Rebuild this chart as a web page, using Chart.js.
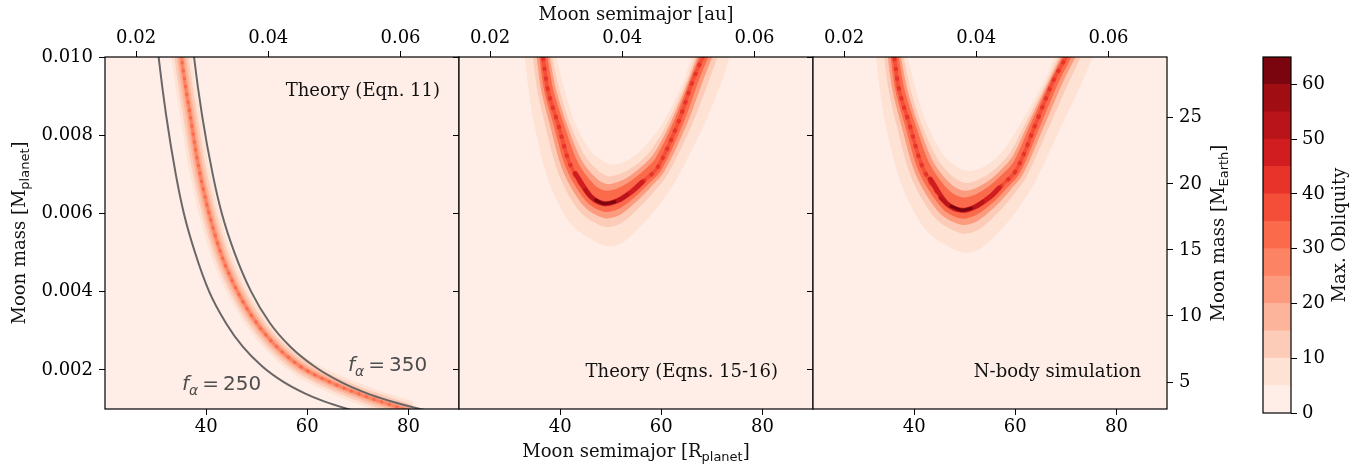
<!DOCTYPE html>
<html lang="en">
<head>
<meta charset="UTF-8">
<title>Moon obliquity</title>
<script src="https://cdn.jsdelivr.net/npm/chart.js@4.4.0/dist/chart.umd.min.js"></script>
<style>
  html, body { margin: 0; padding: 0; background: #fff; }
  #fig { position: relative; width: 1369px; height: 466px; }
  #fig canvas { position: absolute; left: 0; top: 0; }
</style>
</head>
<body>
<div id="fig">
  <canvas id="p1" width="1369" height="466"></canvas>
  <canvas id="p2" width="1369" height="466"></canvas>
  <canvas id="p3" width="1369" height="466"></canvas>
  <canvas id="cb" width="1369" height="466"></canvas>
</div>
<script>
// axes
const xMin = 20, xMax = 90;            // Moon semimajor [R_planet]
const yMin = 0.001, yMax = 0.010;      // Moon mass [M_planet]
const auPerRp = 0.000765;              // top axis conversion
const earthPerMp = 2960;               // right axis conversion
const xTicks = [40, 60, 80];
const auTicks = [0.02, 0.04, 0.06];
const yTicks = [0.002, 0.004, 0.006, 0.008, 0.010];
const earthTicks = [5, 10, 15, 20, 25];

// colour levels (Max. Obliquity, deg)
const cbLevels = [0, 5, 10, 15, 20, 25, 30, 35, 40, 45, 50, 55, 60, 65];
const cbTicks = [0, 10, 20, 30, 40, 50, 60];
const levelColors = ['#ffeee7', '#fee2d4', '#fdccb8', '#fcb59a', '#fc9b7d', '#fc8363', '#fb6a4a',
                     '#f44d38', '#e73329', '#d11d1f', '#b91419', '#a00e14', '#7a050f'];

// panel 1: Theory (Eqn. 11)  [a, m]
const p1Core = [[34.7,0.0105],[35.1,0.0100],[35.8,0.00936],[36.8,0.00855],[38.4,0.00727],[40.1,0.00625],[42.7,0.00506],[45.4,0.00421],[48.9,0.00340],[53.0,0.00272],[58.5,0.00210],[65.0,0.00166],[71.4,0.00133],[75.9,0.00113],[80.5,0.00094]];
const p1Alpha250 = [[30.2,0.0105],[30.6,0.0100],[32.1,0.0085],[34.0,0.0070],[35.6,0.0060],[37.8,0.0050],[40.6,0.0040],[43.9,0.0032],[47.2,0.0026],[51.0,0.0021],[55.2,0.0017],[59.5,0.0014],[63.2,0.0012],[68.0,0.0010],[70.9,0.0009]];
const p1Alpha350 = [[37.2,0.0105],[37.6,0.0100],[39.2,0.0085],[41.3,0.0070],[43.1,0.0060],[45.6,0.0050],[48.9,0.0040],[52.6,0.0032],[56.6,0.0026],[61.3,0.0021],[66.5,0.0017],[71.8,0.0014],[76.5,0.0012],[82.3,0.0010],[85.8,0.0009]];

// panel 2: Theory (Eqns. 15-16), contour outlines (outer / inner side of the U)
const p2Ridge = [[36.01,0.01051],[36.60,0.01000],[37.59,0.00915],[39.56,0.00830],[42.20,0.00719],[46.15,0.00642],[48.79,0.00625],[51.42,0.00633],[54.06,0.00655],[56.69,0.00685],[59.33,0.00719],[63.28,0.00830],[66.25,0.00940],[68.22,0.01000],[69.93,0.01051]];
const p2Out5 = [[32.51,0.01051],[32.98,0.01000],[33.77,0.00915],[34.82,0.00830],[37.72,0.00683],[42.27,0.00571],[48.79,0.00518],[52.41,0.00526],[57.68,0.00592],[60.38,0.00637],[62.95,0.00686],[68.55,0.00830],[72.04,0.00940],[73.49,0.01000],[74.74,0.01051]];
const p2In5 = [[38.25,0.01051],[39.23,0.01000],[40.88,0.00915],[42.99,0.00830],[46.15,0.00757],[48.13,0.00737],[49.78,0.00726],[51.75,0.00728],[53.73,0.00739],[55.70,0.00757],[57.68,0.00785],[60.25,0.00830],[64.47,0.00940],[65.92,0.01000],[67.17,0.01051]];
const p2Out10 = [[34.08,0.01051],[34.60,0.01000],[35.49,0.00915],[36.96,0.00830],[39.74,0.00699],[44.01,0.00603],[48.79,0.00566],[51.97,0.00574],[56.05,0.00620],[58.72,0.00658],[61.32,0.00701],[66.18,0.00830],[69.43,0.00940],[71.12,0.01000],[72.58,0.01051]];
const p2In10 = [[37.57,0.01051],[38.44,0.01000],[39.89,0.00915],[41.96,0.00830],[44.97,0.00746],[47.54,0.00709],[49.48,0.00695],[51.65,0.00700],[53.83,0.00714],[56.00,0.00735],[58.17,0.00765],[61.16,0.00830],[65.00,0.00940],[66.61,0.01000],[68.00,0.01051]];
const p2Out20 = [[34.78,0.01051],[35.33,0.01000],[36.25,0.00915],[37.90,0.00830],[40.63,0.00706],[44.79,0.00617],[48.79,0.00588],[51.77,0.00596],[55.33,0.00633],[57.98,0.00668],[60.60,0.00707],[65.13,0.00830],[68.27,0.00940],[70.07,0.01000],[71.62,0.01051]];
const p2In20 = [[37.13,0.01051],[37.92,0.01000],[39.23,0.00915],[41.28,0.00830],[44.18,0.00738],[47.14,0.00690],[49.28,0.00675],[51.59,0.00681],[53.89,0.00697],[56.20,0.00721],[58.50,0.00752],[61.76,0.00830],[65.36,0.00940],[67.07,0.01000],[68.55,0.01051]];
const p2Out30 = [[35.31,0.01051],[35.87,0.01000],[36.82,0.00915],[38.62,0.00830],[41.30,0.00712],[45.37,0.00628],[48.79,0.00604],[51.62,0.00612],[54.78,0.00642],[57.43,0.00675],[60.05,0.00712],[64.33,0.00830],[67.41,0.00940],[69.28,0.01000],[70.90,0.01051]];
const p2In30 = [[36.74,0.01051],[37.47,0.01000],[38.67,0.00915],[40.70,0.00830],[43.50,0.00731],[46.80,0.00673],[49.12,0.00658],[51.53,0.00665],[53.95,0.00683],[56.36,0.00708],[58.79,0.00740],[62.28,0.00830],[65.66,0.00940],[67.46,0.01000],[69.02,0.01051]];
const p2Core40 = [[43.0,0.00702],[46.15,0.00642],[48.79,0.00625],[51.42,0.00633],[54.06,0.00655],[56.2,0.00680]];
const p2Core50 = [[45.0,0.00660],[46.15,0.00642],[48.79,0.00625],[51.42,0.00633],[53.3,0.00648]];
const p2Core60 = [[47.0,0.00634],[48.79,0.00625],[50.8,0.00630]];

// panel 3: N-body simulation
const p3Ridge = [[35.48,0.01051],[36.07,0.01000],[37.06,0.00915],[39.03,0.00830],[42.00,0.00709],[46.48,0.00625],[49.45,0.00608],[52.21,0.00618],[54.98,0.00642],[57.61,0.00675],[60.25,0.00712],[64.07,0.00830],[67.57,0.00940],[70.06,0.01000],[72.04,0.01051]];
const p3Out5 = [[31.98,0.01051],[32.45,0.01000],[33.24,0.00915],[34.29,0.00830],[37.52,0.00673],[42.60,0.00554],[49.45,0.00501],[53.20,0.00511],[58.60,0.00579],[61.30,0.00627],[63.87,0.00679],[69.34,0.00830],[73.36,0.00940],[75.33,0.01000],[76.85,0.01051]];
const p3In5 = [[37.72,0.01051],[38.70,0.01000],[40.35,0.00915],[42.46,0.00830],[45.95,0.00747],[48.46,0.00720],[50.44,0.00709],[52.54,0.00713],[54.65,0.00726],[56.62,0.00747],[58.60,0.00778],[61.04,0.00830],[65.79,0.00940],[67.76,0.01000],[69.28,0.01051]];
const p3Out10 = [[33.55,0.01051],[34.07,0.01000],[34.96,0.00915],[36.43,0.00830],[39.54,0.00689],[44.34,0.00586],[49.45,0.00549],[52.76,0.00559],[56.97,0.00607],[59.64,0.00648],[62.24,0.00694],[66.97,0.00830],[70.75,0.00940],[72.96,0.01000],[74.69,0.01051]];
const p3In10 = [[37.04,0.01051],[37.91,0.01000],[39.36,0.00915],[41.43,0.00830],[44.77,0.00736],[47.87,0.00692],[50.14,0.00678],[52.44,0.00685],[54.75,0.00701],[56.92,0.00725],[59.09,0.00758],[61.95,0.00830],[66.32,0.00940],[68.45,0.01000],[70.11,0.01051]];
const p3Out20 = [[34.25,0.01051],[34.80,0.01000],[35.72,0.00915],[37.37,0.00830],[40.43,0.00696],[45.12,0.00600],[49.45,0.00571],[52.56,0.00581],[56.25,0.00620],[58.90,0.00658],[61.52,0.00700],[65.92,0.00830],[69.59,0.00940],[71.91,0.01000],[73.73,0.01051]];
const p3In20 = [[36.60,0.01051],[37.39,0.01000],[38.70,0.00915],[40.75,0.00830],[43.98,0.00728],[47.47,0.00673],[49.94,0.00658],[52.38,0.00666],[54.81,0.00684],[57.12,0.00711],[59.42,0.00745],[62.55,0.00830],[66.68,0.00940],[68.91,0.01000],[70.66,0.01051]];
const p3Out30 = [[34.78,0.01051],[35.34,0.01000],[36.29,0.00915],[38.09,0.00830],[41.10,0.00702],[45.70,0.00611],[49.45,0.00587],[52.41,0.00597],[55.70,0.00629],[58.35,0.00665],[60.97,0.00705],[65.12,0.00830],[68.73,0.00940],[71.12,0.01000],[73.01,0.01051]];
const p3In30 = [[36.21,0.01051],[36.94,0.01000],[38.14,0.00915],[40.17,0.00830],[43.30,0.00721],[47.13,0.00656],[49.78,0.00641],[52.32,0.00650],[54.87,0.00670],[57.28,0.00698],[59.71,0.00733],[63.07,0.00830],[66.98,0.00940],[69.30,0.01000],[71.13,0.01051]];
const p3Core40 = [[43.2,0.00688],[46.48,0.00625],[49.45,0.00608],[52.21,0.00618],[54.98,0.00642],[56.8,0.00665]];
const p3Core50 = [[45.2,0.00640],[46.48,0.00625],[49.45,0.00608],[52.21,0.00618],[53.6,0.00630]];
const p3Core60 = [[47.3,0.00618],[49.45,0.00608],[51.3,0.00613]];

const serif = "'DejaVu Serif', serif";
const sans = "'DejaVu Sans', sans-serif";
const tickFont = { family: serif, size: 18 };

function pts(arr) {
    return arr.map(p => ({ x: p[0], y: p[1] }));
}

function stroke(data, color, width, cap, dash) {
    return { data: pts(data), showLine: true, fill: false, borderColor: color, borderWidth: width,
             pointRadius: 0, tension: 0.35, borderCapStyle: cap || 'butt', borderJoinStyle: 'round',
             borderDash: dash || [] };
}

function smooth(ds) {
    ds.cubicInterpolationMode = 'monotone';
    return ds;
}

function band(outer, inner, color) {
    return { data: pts(outer.concat(inner.slice().reverse())), showLine: true, fill: 'shape',
             backgroundColor: color, borderColor: 'rgba(0,0,0,0)', borderWidth: 0,
             pointRadius: 0, tension: 0.3 };
}

// later entries are drawn on top
function stackOrder(list) {
    list.forEach((d, i) => { d.order = list.length - i; });
    return list;
}

// text with subscripts, parts = [{t, sub, italic, family}]
function richText(ctx, parts, x, y, size, opts) {
    opts = opts || {};
    ctx.save();
    ctx.translate(x, y);
    if (opts.rotate) ctx.rotate(-Math.PI / 2);
    ctx.fillStyle = opts.color || '#000';
    ctx.textBaseline = 'alphabetic';
    const fontOf = p => (p.italic ? 'italic ' : '') + Math.round(p.sub ? size * 0.7 : size) + 'px ' + (p.family || opts.family || serif);
    const widths = parts.map(p => { ctx.font = fontOf(p); return ctx.measureText(p.t).width; });
    const total = widths.reduce((s, w) => s + w, 0);
    let cx = opts.align === 'right' ? -total : (opts.align === 'left' ? 0 : -total / 2);
    parts.forEach((p, i) => {
        ctx.font = fontOf(p);
        ctx.fillText(p.t, cx, p.sub ? size * 0.24 : 0);
        cx += widths[i];
    });
    ctx.restore();
}

function tickGrid() {
    return { display: true, drawOnChartArea: false, drawTicks: true, tickLength: 6, color: '#000', tickWidth: 1 };
}

const panelBg = {
    id: 'panelBg',
    beforeDatasetsDraw(chart) {
        const a = chart.chartArea, ctx = chart.ctx;
        ctx.save();
        ctx.fillStyle = levelColors[0];
        ctx.fillRect(a.left, a.top, a.right - a.left, a.bottom - a.top);
        ctx.restore();
    }
};

const frame = {
    id: 'frame',
    afterDraw(chart) {
        const a = chart.chartArea, ctx = chart.ctx;
        ctx.save();
        ctx.strokeStyle = '#000';
        ctx.lineWidth = 1.2;
        ctx.strokeRect(a.left, a.top, a.right - a.left, a.bottom - a.top);
        ctx.restore();
    }
};

function makePanel(id, datasets, cfg) {
    const scales = {
        x: {
            type: 'linear', position: 'bottom', min: xMin, max: xMax,
            afterBuildTicks: s => { s.ticks = xTicks.map(v => ({ value: v })); },
            afterFit: s => { s.height = 57; },
            grid: tickGrid(), border: { display: false },
            ticks: { color: '#000', font: tickFont, padding: 2, maxRotation: 0, callback: v => String(v) }
        },
        xTop: {
            type: 'linear', position: 'top', min: xMin * auPerRp, max: xMax * auPerRp,
            afterBuildTicks: s => { s.ticks = auTicks.map(v => ({ value: v })); },
            afterFit: s => { s.height = 57; },
            grid: tickGrid(), border: { display: false },
            ticks: { color: '#000', font: tickFont, padding: 2, maxRotation: 0, callback: v => v.toFixed(2) }
        },
        y: {
            type: 'linear', position: 'left', min: yMin, max: yMax,
            afterBuildTicks: s => { s.ticks = yTicks.map(v => ({ value: v })); },
            afterFit: s => { s.width = cfg.leftWidth; },
            grid: tickGrid(), border: { display: false },
            ticks: { display: cfg.yLabels, color: '#000', font: tickFont, padding: 6, callback: v => v.toFixed(3) }
        }
    };
    if (cfg.earthAxis) {
        scales.yR = {
            type: 'linear', position: 'right', min: yMin * earthPerMp, max: yMax * earthPerMp,
            afterBuildTicks: s => { s.ticks = earthTicks.map(v => ({ value: v })); },
            afterFit: s => { s.width = 202; },
            grid: tickGrid(), border: { display: false },
            ticks: { color: '#000', font: tickFont, padding: 6, callback: v => String(v) }
        };
    }
    return new Chart(document.getElementById(id), {
        type: 'scatter',
        data: { datasets: stackOrder(datasets) },
        options: {
            responsive: false, animation: false, devicePixelRatio: 1, events: [],
            layout: { padding: cfg.padding },
            scales: scales,
            plugins: { legend: { display: false }, tooltip: { enabled: false } }
        },
        plugins: [panelBg, frame, { id: 'labels', afterDraw: cfg.draw }]
    });
}

// panel 1
makePanel('p1', [
    smooth(stroke(p1Core, levelColors[1], 20)),
    smooth(stroke(p1Core, levelColors[2], 14)),
    smooth(stroke(p1Core, levelColors[3], 9)),
    smooth(stroke(p1Core, levelColors[4], 5)),
    smooth(stroke(p1Core, levelColors[5], 2.5)),
    smooth(stroke(p1Core, levelColors[6], 3, 'butt', [3, 5])),
    smooth(stroke(p1Alpha250, '#6b6666', 2)),
    smooth(stroke(p1Alpha350, '#6b6666', 2))
], {
    leftWidth: 105, yLabels: true,
    padding: { left: 0, right: 1369 - 459, top: 0, bottom: 0 },
    draw(chart) {
        const a = chart.chartArea, ctx = chart.ctx;
        richText(ctx, [{ t: 'Theory (Eqn. 11)' }], a.right - 19, a.top + 39, 18, { align: 'right', color: '#111' });
        const fa = [{ t: 'f', italic: true }, { t: '\u03b1', sub: true, italic: true }, { t: '\u2009=\u2009' }];
        richText(ctx, fa.concat([{ t: '250' }]), a.left + 77, a.bottom - 19, 20, { align: 'left', family: sans, color: '#4d4d4d' });
        richText(ctx, fa.concat([{ t: '350' }]), a.left + 243, a.bottom - 38, 20, { align: 'left', family: sans, color: '#4d4d4d' });
        richText(ctx, [{ t: 'Moon mass [M' }, { t: 'planet', sub: true, family: sans }, { t: ']' }], 25, (a.top + a.bottom) / 2, 18, { rotate: true, color: '#111' });
    }
});

function uPanel(ridge, o5, i5, o10, i10, o20, i20, o30, i30, c40, c50, c60) {
    return [
        band(o5, i5, levelColors[1]),
        band(o10, i10, levelColors[2]),
        band(o20, i20, levelColors[4]),
        band(o30, i30, levelColors[6]),
        stroke(ridge, levelColors[7], 3.5),
        stroke(ridge, levelColors[8], 4, 'butt', [4, 6]),
        stroke(c40, levelColors[9], 5, 'round'),
        stroke(c50, levelColors[10], 4, 'round'),
        stroke(c60, levelColors[12], 3, 'round')
    ];
}

// panel 2
makePanel('p2', uPanel(p2Ridge, p2Out5, p2In5, p2Out10, p2In10, p2Out20, p2In20, p2Out30, p2In30, p2Core40, p2Core50, p2Core60), {
    leftWidth: 40, yLabels: false,
    padding: { left: 459 - 40, right: 1369 - 813, top: 0, bottom: 0 },
    draw(chart) {
        const a = chart.chartArea, ctx = chart.ctx;
        const cx = (a.left + a.right) / 2;
        richText(ctx, [{ t: 'Theory (Eqns. 15-16)' }], a.right - 35, a.bottom - 32, 18, { align: 'right', color: '#111' });
        richText(ctx, [{ t: 'Moon semimajor [au]' }], cx, 20, 18, { color: '#111' });
        richText(ctx, [{ t: 'Moon semimajor [R' }, { t: 'planet', sub: true, family: sans }, { t: ']' }], cx, 457, 18, { color: '#111' });
    }
});

// panel 3
makePanel('p3', uPanel(p3Ridge, p3Out5, p3In5, p3Out10, p3In10, p3Out20, p3In20, p3Out30, p3In30, p3Core40, p3Core50, p3Core60), {
    leftWidth: 40, yLabels: false, earthAxis: true,
    padding: { left: 813 - 40, right: 0, top: 0, bottom: 0 },
    draw(chart) {
        const a = chart.chartArea, ctx = chart.ctx;
        richText(ctx, [{ t: 'N-body simulation' }], a.right - 26, a.bottom - 32, 18, { align: 'right', color: '#111' });
        richText(ctx, [{ t: 'Moon mass [M' }, { t: 'Earth', sub: true, family: sans }, { t: ']' }], 1224, (a.top + a.bottom) / 2, 18, { rotate: true, color: '#111' });
    }
});

// colour bar
new Chart(document.getElementById('cb'), {
    type: 'bar',
    data: {
        labels: [''],
        datasets: levelColors.map((c, i) => ({
            data: [cbLevels[i + 1] - cbLevels[i]], backgroundColor: c, borderWidth: 0,
            barPercentage: 1, categoryPercentage: 1
        }))
    },
    options: {
        responsive: false, animation: false, devicePixelRatio: 1, events: [],
        layout: { padding: { left: 1263, right: 0, top: 57, bottom: 53 } },
        scales: {
            x: { display: false, stacked: true },
            y: {
                stacked: true, position: 'right', min: 0, max: 65,
                afterBuildTicks: s => { s.ticks = cbTicks.map(v => ({ value: v })); },
                afterFit: s => { s.width = 1369 - 1291; },
                grid: tickGrid(), border: { display: false },
                ticks: { color: '#000', font: tickFont, padding: 5, callback: v => String(v) }
            }
        },
        plugins: { legend: { display: false }, tooltip: { enabled: false } }
    },
    plugins: [frame, {
        id: 'cbTitle',
        afterDraw(chart) {
            const a = chart.chartArea;
            richText(chart.ctx, [{ t: 'Max. Obliquity' }], 1345, (a.top + a.bottom) / 2, 18, { rotate: true, color: '#111' });
        }
    }]
});
</script>
</body>
</html>
